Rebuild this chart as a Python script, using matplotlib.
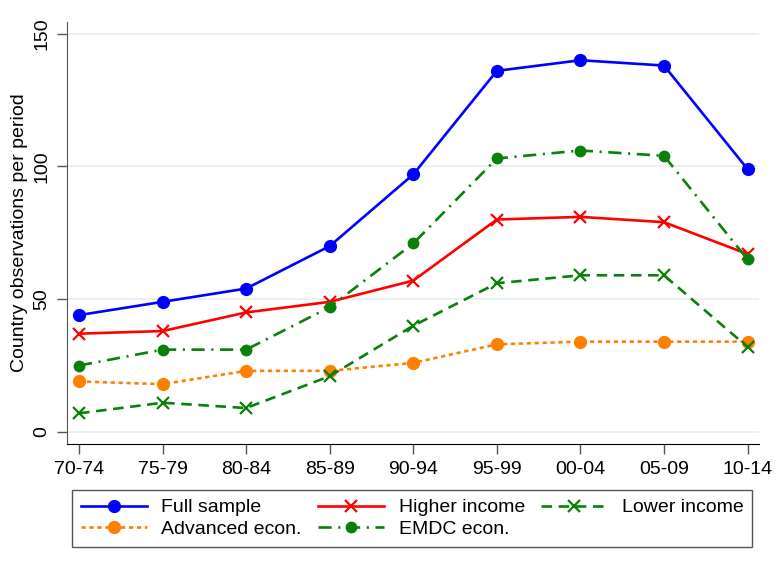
import matplotlib
matplotlib.use("Agg")
import matplotlib.pyplot as plt

periods = ["70-74", "75-79", "80-84", "85-89", "90-94", "95-99", "00-04", "05-09", "10-14"]
full_sample = [44, 49, 54, 70, 97, 136, 140, 138, 99]
higher_income = [37, 38, 45, 49, 57, 80, 81, 79, 67]
lower_income = [7, 11, 9, 21, 40, 56, 59, 59, 32]
advanced = [19, 18, 23, 23, 26, 33, 34, 34, 34]
emdc = [25, 31, 31, 47, 71, 103, 106, 104, 65]

plt.rcParams["font.family"] = ["Liberation Sans", "DejaVu Sans"]

fig = plt.figure(figsize=(7.79, 5.72), dpi=100)
ax = fig.add_axes([0.086, 0.224, 0.888, 0.738])

x = list(range(len(periods)))
green = "#0a800a"
lw = 1.9

ax.plot(x, full_sample, color="#0000ff", lw=lw, marker="o", ms=8.5,
        label="Full sample", zorder=5)
ax.plot(x, advanced, color="#ff8000", lw=lw, marker="o", ms=8.5,
        linestyle=(0, (1.6, 1.4)), label="Advanced econ.", zorder=3)
ax.plot(x, higher_income, color="#ff0000", lw=lw, marker="x", ms=9,
        mew=1.6, label="Higher income", zorder=4)
ax.plot(x, emdc, color=green, lw=lw, marker="o", ms=7.5,
        linestyle=(0, (5, 2.5, 0.8, 2.5)), label="EMDC econ.", zorder=4)
ax.plot(x, lower_income, color=green, lw=lw, marker="x", ms=9,
        mew=1.6, linestyle=(0, (4, 2.5)), label="Lower income", zorder=4)

ax.set_xlim(-0.144, 8.134)
ax.set_ylim(-4.5, 154.5)
ax.set_xticks(x)
ax.set_xticklabels(periods, fontsize=14)
ax.set_yticks([0, 50, 100, 150])
ax.set_yticklabels(["0", "50", "100", "150"], fontsize=14, rotation=90, va="center")
ax.set_ylabel("Country observations per period", fontsize=14)

ax.grid(axis="y", color="#e8eff2", lw=1.3, zorder=0)
ax.set_axisbelow(True)
for side in ["top", "right"]:
    ax.spines[side].set_visible(False)
ax.spines["left"].set_color("#555555")
ax.spines["bottom"].set_color("#000000")
ax.tick_params(axis="both", length=7, width=1, color="#555555", pad=5)

leg = ax.legend(loc="upper left", bbox_to_anchor=(72 / 779, 1 - 547 / 572, 680 / 779, 57 / 572),
                bbox_transform=fig.transFigure, mode="expand", ncol=3, fontsize=14,
                frameon=True, fancybox=False, edgecolor="#555555", framealpha=1,
                handlelength=3.4, borderaxespad=0, labelspacing=0.2, borderpad=0.45,
                columnspacing=0.8, handletextpad=0.75)
leg.get_frame().set_linewidth(1.0)

fig.savefig("out.png", dpi=100)
